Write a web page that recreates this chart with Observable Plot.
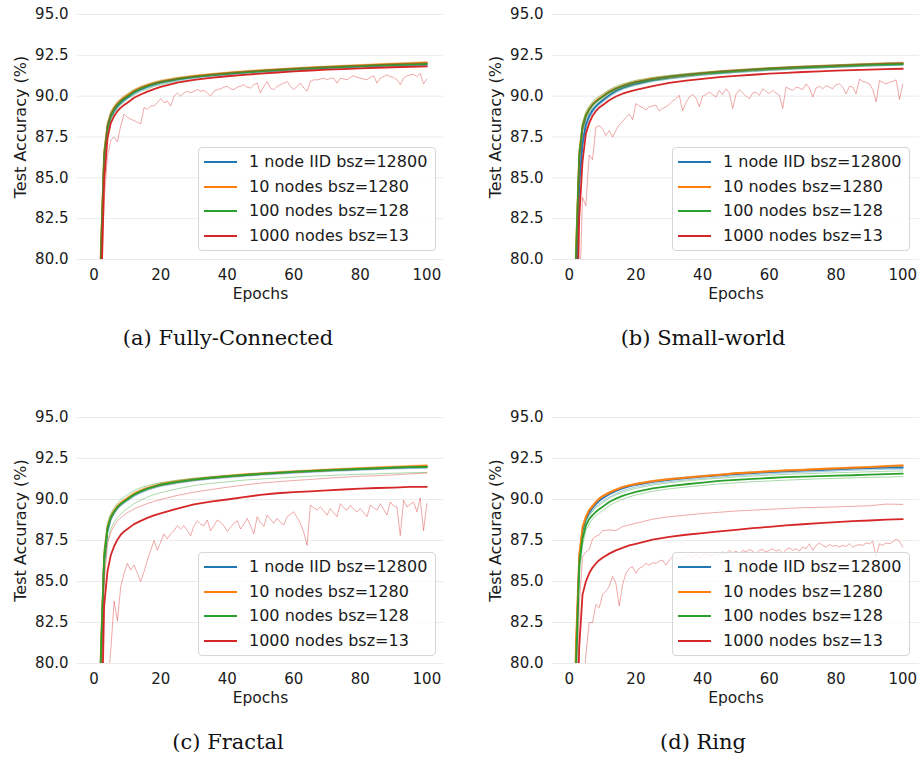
<!DOCTYPE html>
<html>
<head>
<meta charset="utf-8">
<script src="https://cdn.jsdelivr.net/npm/d3@7"></script>
<script src="https://cdn.jsdelivr.net/npm/@observablehq/plot@0.6"></script>
<style>
  html, body { margin: 0; padding: 0; background: #fff; }
  #root { position: relative; width: 920px; height: 761px; overflow: hidden; font-family: "DejaVu Sans", sans-serif; color: #1a1a1a; }
  .panel { position: absolute; }
  .caption { position: absolute; font-family: "DejaVu Serif", serif; font-size: 21px; color: #111; white-space: nowrap; transform: translateX(-50%); line-height: 24px; }
  .legend { position: absolute; border: 1px solid #d6d6d6; border-radius: 4px; background: rgba(255,255,255,0.8); box-sizing: border-box; }
  .legend .sw { position: absolute; left: 5px; width: 33px; height: 2px; }
  .legend .lb { position: absolute; left: 50px; font-size: 16px; line-height: 18px; white-space: nowrap; color: #1a1a1a; }
</style>
</head>
<body>
<div id="root"></div>
<script>
// ---------- labels / ticks ----------
const seriesNames = ["1 node IID bsz=12800", "10 nodes bsz=1280", "100 nodes bsz=128", "1000 nodes bsz=13"];
const seriesColors = ["#1f77b4", "#ff7f0e", "#2ca02c", "#d62728"];
const panelTitles = ["(a) Fully-Connected", "(b) Small-world", "(c) Fractal", "(d) Ring"];
const xTicks = [0, 20, 40, 60, 80, 100];
const yTicks = [80, 82.5, 85, 87.5, 90, 92.5, 95];
const xTitle = "Epochs";
const yTitle = "Test Accuracy (%)";

// ---------- epochs ----------
const epochsKey = [1,2,3,4,5,6,7,8,9,10,12,14,16,18,20,25,30,35,40,45,50,55,60,65,70,75,80,85,90,95,100];
const epochsAll = [1,2,3,4,5,6,7,8,9,10,11,12,13,14,15,16,17,18,19,20,21,22,23,24,25,26,27,28,29,30,31,32,33,34,35,36,37,38,39,40,41,42,43,44,45,46,47,48,49,50,51,52,53,54,55,56,57,58,59,60,61,62,63,64,65,66,67,68,69,70,71,72,73,74,75,76,77,78,79,80,81,82,83,84,85,86,87,88,89,90,91,92,93,94,95,96,97,98,99,100];

// ---------- (a) Fully-Connected ----------
const fcBlueMean = [68,79.6,86.1,88.0,88.75,89.1,89.4,89.6,89.78,89.92,90.22,90.42,90.58,90.72,90.83,91.03,91.16,91.27,91.36,91.45,91.52,91.58,91.64,91.69,91.74,91.78,91.82,91.86,91.9,91.93,91.95];
const fcBlueLo = [66,78.6,85.7,87.8,88.6,88.98,89.3,89.5,89.68,89.84,90.12,90.34,90.5,90.63,90.75,90.95,91.09,91.21,91.3,91.38,91.46,91.52,91.58,91.63,91.68,91.72,91.77,91.8,91.84,91.87,91.89];
const fcBlueHi = [70,80.6,86.5,88.2,88.9,89.25,89.52,89.72,89.9,90.03,90.31,90.5,90.66,90.8,90.91,91.1,91.23,91.34,91.43,91.51,91.58,91.65,91.7,91.75,91.8,91.84,91.88,91.92,91.96,91.99,92.01];
const fcOrangeMean = [70,80.5,86.5,88.2,88.9,89.28,89.56,89.76,89.92,90.06,90.33,90.52,90.68,90.8,90.91,91.09,91.22,91.33,91.42,91.5,91.57,91.63,91.69,91.74,91.79,91.84,91.88,91.93,91.97,92.01,92.05];
const fcOrangeLo = [68.5,79.8,86.2,88.0,88.75,89.15,89.45,89.66,89.82,89.96,90.24,90.44,90.6,90.72,90.83,91.02,91.16,91.27,91.36,91.44,91.51,91.57,91.63,91.68,91.73,91.78,91.82,91.87,91.91,91.95,91.99];
const fcOrangeHi = [71.5,81.2,86.8,88.4,89.05,89.42,89.68,89.88,90.03,90.16,90.43,90.61,90.76,90.88,90.99,91.16,91.29,91.39,91.48,91.56,91.63,91.69,91.75,91.8,91.85,91.9,91.94,91.99,92.03,92.07,92.11];
const fcGreenMean = [69,80.1,86.3,88.1,88.82,89.18,89.47,89.67,89.84,89.98,90.26,90.46,90.61,90.75,90.86,91.05,91.18,91.29,91.38,91.46,91.53,91.6,91.66,91.71,91.76,91.8,91.84,91.88,91.92,91.95,91.98];
const fcGreenLo = [67,79.0,85.9,87.8,88.55,88.95,89.22,89.5,89.62,89.85,90.05,90.3,90.42,90.6,90.68,90.9,90.98,91.15,91.25,91.3,91.42,91.46,91.55,91.58,91.65,91.68,91.73,91.78,91.81,91.85,91.87];
const fcGreenHi = [71,81.0,86.7,88.35,89.05,89.38,89.62,89.82,89.97,90.12,90.39,90.56,90.71,90.83,90.94,91.11,91.25,91.35,91.44,91.52,91.6,91.66,91.72,91.77,91.82,91.86,91.9,91.94,91.98,92.02,92.05];
const fcRedMean = [66,77.0,84.8,87.4,88.35,88.78,89.08,89.3,89.46,89.6,89.9,90.1,90.28,90.43,90.57,90.83,91.0,91.12,91.22,91.3,91.38,91.45,91.52,91.57,91.62,91.66,91.7,91.74,91.77,91.8,91.82];
const fcRedHi = [70,80.3,86.4,88.2,88.88,89.25,89.53,89.73,89.88,90.02,90.3,90.5,90.65,90.78,90.89,91.07,91.21,91.32,91.41,91.49,91.57,91.63,91.69,91.74,91.79,91.83,91.88,91.92,91.96,92.0,92.04];
const fcRedLo = [62,78,83.5,86.3,87.3,87.5,87.2,88.2,88.9,88.7, 88.6,88.5,88.4,88.3,89.3,89.2,89.4,89.4,89.6,89.85, 89.6,89.7,89.4,90.0,90.2,90.0,90.2,90.3,90.2,90.3, 90.4,90.3,90.35,90.2,90.0,90.3,90.4,90.45,90.55,90.6, 90.45,90.4,90.55,90.6,90.7,90.55,90.5,90.7,90.8,90.2, 90.6,90.9,90.5,90.4,90.6,90.7,90.8,90.9,90.6,90.4, 90.6,90.8,90.5,90.3,90.9,91.0,91.0,91.05,91.1,91.0, 91.1,91.1,90.8,91.1,91.05,91.0,91.15,91.25,91.15,91.1, 91.05,91.0,91.15,91.25,90.8,91.1,91.2,91.3,91.2,91.15, 91.0,90.7,91.1,91.25,91.3,91.35,91.2,91.4,90.75,91.05];

// ---------- (b) Small-world ----------
const swBlueMean = [64,76.5,84.6,87.1,88.25,88.78,89.12,89.38,89.57,89.73,90.05,90.32,90.5,90.64,90.76,90.99,91.14,91.26,91.36,91.45,91.52,91.59,91.65,91.7,91.75,91.79,91.83,91.87,91.91,91.94,91.97];
const swBlueLo = [62,75.5,84.0,86.8,88.0,88.6,88.98,89.25,89.45,89.62,89.95,90.22,90.4,90.55,90.66,90.9,91.05,91.17,91.28,91.36,91.44,91.5,91.57,91.62,91.67,91.71,91.76,91.8,91.84,91.87,91.9];
const swBlueHi = [66,77.5,85.2,87.4,88.5,88.95,89.27,89.5,89.68,89.84,90.15,90.41,90.58,90.72,90.84,91.07,91.22,91.34,91.44,91.53,91.6,91.67,91.73,91.78,91.83,91.87,91.91,91.95,91.99,92.02,92.04];
const swOrangeMean = [69,80.3,86.5,88.2,88.85,89.22,89.5,89.7,89.86,90.0,90.28,90.48,90.64,90.77,90.88,91.07,91.2,91.31,91.41,91.5,91.57,91.63,91.69,91.74,91.79,91.83,91.87,91.91,91.95,91.99,92.02];
const swOrangeLo = [67.5,79.5,86.1,87.95,88.7,89.1,89.4,89.6,89.76,89.9,90.18,90.39,90.56,90.69,90.8,90.99,91.13,91.25,91.35,91.43,91.5,91.57,91.63,91.68,91.73,91.77,91.81,91.86,91.9,91.93,91.96];
const swOrangeHi = [70.5,81.0,86.8,88.4,89.0,89.35,89.62,89.82,89.96,90.1,90.38,90.57,90.72,90.85,90.96,91.14,91.27,91.38,91.47,91.56,91.63,91.69,91.75,91.8,91.85,91.89,91.93,91.97,92.01,92.05,92.08];
const swGreenMean = [68,79.8,86.3,88.1,88.8,89.18,89.46,89.66,89.82,89.96,90.25,90.46,90.62,90.75,90.86,91.05,91.19,91.3,91.4,91.48,91.55,91.62,91.68,91.73,91.77,91.81,91.85,91.89,91.93,91.96,91.98];
const swGreenLo = [66,78.8,85.9,87.8,88.55,88.95,89.25,89.45,89.62,89.78,90.08,90.3,90.48,90.6,90.72,90.93,91.07,91.19,91.3,91.38,91.46,91.53,91.59,91.64,91.69,91.73,91.77,91.81,91.85,91.88,91.9];
const swGreenHi = [70,80.8,86.7,88.4,89.05,89.4,89.66,89.86,90.0,90.13,90.4,90.6,90.75,90.87,90.97,91.15,91.28,91.38,91.47,91.55,91.62,91.68,91.74,91.79,91.84,91.88,91.92,91.96,92.0,92.03,92.06];
const swRedMean = [60,72.0,82.5,86.0,87.7,88.35,88.8,89.08,89.3,89.45,89.75,89.98,90.15,90.28,90.38,90.62,90.81,90.95,91.06,91.16,91.24,91.31,91.38,91.43,91.48,91.52,91.56,91.6,91.63,91.66,91.68];
const swRedHi = [66,78.0,85.8,87.9,88.75,89.15,89.45,89.66,89.83,89.98,90.26,90.47,90.63,90.76,90.88,91.07,91.21,91.32,91.42,91.51,91.58,91.65,91.71,91.76,91.81,91.85,91.89,91.93,91.97,92.0,92.03];
const swRedLo = [62,70,77,83.8,83.3,86.4,86.1,88.1,88.2,88.0, 87.6,87.9,87.5,87.9,88.25,88.45,88.7,88.9,88.55,89.55, 89.4,89.3,89.15,89.35,89.4,89.45,89.1,89.25,89.35,89.5, 89.7,89.85,90.05,89.1,89.6,89.95,90.1,89.9,89.35,90.0, 90.1,90.25,90.1,89.95,90.35,90.1,90.45,90.2,89.25,90.1, 90.4,90.2,90.0,89.85,90.2,90.25,90.05,90.45,90.3,90.15, 90.35,90.2,90.05,89.25,90.55,90.45,90.35,90.55,90.5,90.4, 90.75,90.5,89.95,90.5,90.6,90.45,90.65,90.55,90.45,90.7, 90.75,90.55,90.15,90.6,90.55,90.15,91.05,90.9,90.85,90.75, 90.4,89.65,90.95,90.85,90.75,90.85,90.9,91.0,89.8,90.75];

// ---------- (c) Fractal ----------
const frBlueMean = [68,79.8,86.3,88.1,88.85,89.22,89.5,89.7,89.86,90.0,90.28,90.48,90.64,90.77,90.88,91.06,91.2,91.31,91.4,91.48,91.55,91.61,91.67,91.72,91.77,91.81,91.85,91.89,91.93,91.96,91.98];
const frBlueLo = [66,78.8,85.9,87.85,88.7,89.1,89.38,89.6,89.76,89.9,90.18,90.39,90.55,90.68,90.8,90.98,91.12,91.24,91.33,91.41,91.48,91.54,91.6,91.65,91.7,91.74,91.78,91.82,91.86,91.89,91.9];
const frBlueHi = [70,80.6,86.6,88.3,88.98,89.33,89.6,89.8,89.95,90.09,90.36,90.55,90.71,90.84,90.95,91.12,91.26,91.37,91.46,91.54,91.61,91.67,91.73,91.78,91.83,91.87,91.91,91.95,91.99,92.02,92.04];
const frOrangeMean = [70,80.6,86.6,88.3,88.95,89.3,89.58,89.78,89.93,90.07,90.35,90.54,90.7,90.82,90.93,91.1,91.23,91.34,91.43,91.51,91.58,91.64,91.7,91.75,91.8,91.85,91.89,91.94,91.98,92.02,92.06];
const frOrangeLo = [68.5,79.8,86.3,88.1,88.82,89.18,89.47,89.68,89.84,89.98,90.26,90.46,90.62,90.74,90.85,91.03,91.17,91.28,91.37,91.45,91.52,91.58,91.64,91.69,91.74,91.79,91.83,91.88,91.92,91.96,92.0];
const frOrangeHi = [71.5,81.3,86.9,88.45,89.08,89.42,89.7,89.88,90.02,90.16,90.44,90.62,90.78,90.9,91.01,91.17,91.3,91.4,91.49,91.57,91.64,91.7,91.76,91.81,91.86,91.91,91.95,92.0,92.04,92.08,92.12];
const frGreenMean = [69,80.2,86.4,88.2,88.9,89.25,89.53,89.73,89.88,90.02,90.3,90.5,90.66,90.79,90.9,91.08,91.21,91.32,91.41,91.49,91.56,91.62,91.68,91.73,91.78,91.82,91.86,91.9,91.94,91.97,91.99];
const frGreenLo = [65,77.5,85.5,87.4,88.2,88.6,88.9,89.1,89.3,89.45,89.75,89.95,90.15,90.3,90.42,90.65,90.85,90.98,91.08,91.18,91.25,91.3,91.36,91.42,91.46,91.5,91.54,91.57,91.6,91.63,91.65];
const frGreenHi = [72,81.5,87.0,88.6,89.15,89.5,89.8,90.0,90.15,90.3,90.55,90.72,90.85,90.95,91.03,91.18,91.3,91.38,91.46,91.53,91.6,91.66,91.72,91.77,91.82,91.86,91.9,91.94,91.98,92.01,92.04];
const frRedMean = [62,73.5,83.5,85.6,86.6,87.15,87.55,87.85,88.05,88.2,88.5,88.7,88.88,89.03,89.15,89.45,89.7,89.87,90.0,90.15,90.28,90.38,90.45,90.5,90.56,90.61,90.66,90.7,90.73,90.77,90.77];
const frRedHi = [66,77.5,84.8,87.3,88.0,88.4,88.7,88.9,89.05,89.2,89.42,89.6,89.75,89.88,90.0,90.25,90.45,90.6,90.75,90.88,91.0,91.08,91.16,91.22,91.3,91.36,91.42,91.45,91.5,91.56,91.62];
const frRedLo = [60,68,74,78.5,80.8,83.8,82.6,84.7,85.5,86.1, 85.7,86.0,85.5,85.0,85.6,86.3,86.9,87.5,86.9,87.4, 87.9,87.6,87.9,88.1,88.4,88.2,88.4,88.1,87.8,88.4, 88.7,88.5,88.4,88.75,88.1,88.4,88.75,88.6,88.4,88.05, 88.3,88.55,88.7,88.2,88.5,88.85,88.4,87.9,88.95,88.6, 88.35,89.05,88.8,88.55,88.85,88.6,88.45,88.95,89.1,89.25, 88.9,88.55,88.0,87.2,89.65,89.5,89.35,89.55,89.3,89.05, 89.45,89.2,88.95,89.75,89.5,89.35,89.65,89.4,89.25,89.45, 89.2,88.95,89.65,89.5,89.35,89.75,89.4,89.05,89.85,89.6, 89.55,87.8,89.95,89.55,89.7,89.85,89.25,90.1,88.1,89.75];

// ---------- (d) Ring ----------
const riBlueMean = [68,80.2,86.2,88.1,88.8,89.2,89.48,89.72,89.92,90.08,90.32,90.52,90.68,90.8,90.9,91.08,91.2,91.3,91.39,91.47,91.55,91.61,91.67,91.72,91.76,91.8,91.84,91.88,91.91,91.95,91.95];
const riBlueLo = [66,79.2,85.8,87.85,88.6,89.02,89.3,89.55,89.75,89.9,90.15,90.36,90.53,90.66,90.77,90.96,91.09,91.2,91.29,91.37,91.45,91.51,91.57,91.62,91.66,91.7,91.74,91.78,91.81,91.84,91.85];
const riBlueHi = [70,81.0,86.5,88.3,88.95,89.35,89.62,89.85,90.04,90.2,90.42,90.6,90.75,90.86,90.96,91.14,91.27,91.37,91.46,91.54,91.62,91.68,91.74,91.79,91.83,91.87,91.91,91.95,91.98,92.02,92.03];
const riOrangeMean = [70,81.0,86.6,88.3,88.95,89.35,89.6,89.85,90.05,90.2,90.42,90.6,90.75,90.86,90.95,91.12,91.24,91.33,91.42,91.5,91.6,91.66,91.72,91.77,91.81,91.86,91.9,91.94,91.98,92.03,92.08];
const riOrangeLo = [69,80.5,86.4,88.15,88.85,89.27,89.53,89.78,89.98,90.13,90.36,90.55,90.7,90.81,90.9,91.07,91.2,91.29,91.38,91.46,91.56,91.62,91.68,91.73,91.77,91.82,91.86,91.9,91.94,91.99,92.04];
const riOrangeHi = [71,81.5,86.8,88.42,89.05,89.43,89.67,89.92,90.12,90.27,90.48,90.65,90.8,90.91,91.0,91.17,91.29,91.38,91.47,91.55,91.64,91.7,91.76,91.81,91.85,91.9,91.94,91.98,92.02,92.07,92.12];
const riGreenMean = [67,79.5,86.0,87.6,88.4,88.8,89.05,89.25,89.4,89.55,89.85,90.05,90.22,90.35,90.47,90.68,90.82,90.93,91.03,91.13,91.2,91.26,91.31,91.36,91.4,91.43,91.46,91.48,91.52,91.55,91.58];
const riGreenLo = [65,78.0,85.2,87.2,88.1,88.5,88.8,89.0,89.18,89.32,89.62,89.85,90.02,90.16,90.28,90.5,90.65,90.76,90.86,90.95,91.02,91.08,91.13,91.18,91.22,91.26,91.29,91.32,91.35,91.37,91.4];
const riGreenHi = [69,80.5,86.5,88.0,88.7,89.05,89.3,89.5,89.65,89.8,90.08,90.28,90.44,90.57,90.68,90.88,91.02,91.13,91.22,91.3,91.37,91.43,91.48,91.53,91.57,91.6,91.63,91.66,91.69,91.72,91.74];
const riRedMean = [60,72,81.0,84.2,85.0,85.5,85.85,86.1,86.3,86.45,86.7,86.9,87.05,87.2,87.3,87.55,87.72,87.85,87.95,88.06,88.15,88.25,88.33,88.42,88.49,88.56,88.62,88.68,88.72,88.77,88.8];
const riRedHi = [64,76,83.5,86.5,86.8,86.95,87.6,87.75,87.85,88.1,88.15,88.1,88.35,88.45,88.55,88.8,88.95,89.05,89.15,89.22,89.3,89.35,89.4,89.45,89.5,89.52,89.55,89.58,89.62,89.72,89.7];
const riRedLo = [58,66,72,77.5,80.5,82.5,82.5,83.6,83.4,84.2, 84.4,84.7,85.3,84.9,83.5,84.8,85.5,85.8,85.9,85.5, 85.8,85.9,86.1,86.0,86.15,86.1,86.25,86.3,86.0,86.3, 86.5,86.4,86.45,86.3,86.5,86.6,86.5,86.65,86.4,86.6, 86.7,86.55,86.6,86.75,86.6,86.8,86.7,86.9,86.75,86.85, 86.7,86.9,86.8,86.95,86.85,86.7,86.9,86.95,86.8,86.9, 87.0,86.85,86.95,86.7,86.95,87.05,86.9,87.0,86.85,87.1, 87.0,87.3,86.9,87.2,87.35,87.2,87.1,87.25,87.15,87.2, 87.1,87.2,87.15,87.3,87.1,87.2,87.25,87.2,87.35,87.3, 87.45,86.5,87.3,87.2,87.35,87.3,87.4,87.6,87.45,87.1];

// ---------- panel assembly ----------
const panels = [
  {title: panelTitles[0], left: 0,   top: 0,   mL: 77, mR: 17, mB: 51, leg: [198, 147], cap: [228, 338],
   series: [[fcBlueMean, fcBlueLo, fcBlueHi], [fcOrangeMean, fcOrangeLo, fcOrangeHi], [fcGreenMean, fcGreenLo, fcGreenHi], [fcRedMean, fcRedLo, fcRedHi]]},
  {title: panelTitles[1], left: 460, top: 0,   mL: 92, mR: 1,  mB: 51, leg: [672, 147], cap: [703, 338],
   series: [[swBlueMean, swBlueLo, swBlueHi], [swOrangeMean, swOrangeLo, swOrangeHi], [swGreenMean, swGreenLo, swGreenHi], [swRedMean, swRedLo, swRedHi]]},
  {title: panelTitles[2], left: 0,   top: 403, mL: 77, mR: 17, mB: 50, leg: [198, 552], cap: [228, 742],
   series: [[frBlueMean, frBlueLo, frBlueHi], [frOrangeMean, frOrangeLo, frOrangeHi], [frGreenMean, frGreenLo, frGreenHi], [frRedMean, frRedLo, frRedHi]]},
  {title: panelTitles[3], left: 460, top: 403, mL: 92, mR: 1,  mB: 50, leg: [672, 552], cap: [703, 742],
   series: [[riBlueMean, riBlueLo, riBlueHi], [riOrangeMean, riOrangeLo, riOrangeHi], [riGreenMean, riGreenLo, riGreenHi], [riRedMean, riRedLo, riRedHi]]}
];

const xOf = arr => (arr.length === epochsAll.length ? epochsAll : epochsKey);
const root = document.getElementById("root");

panels.forEach(p => {
  const marks = [
    Plot.gridY(yTicks, {stroke: "#ebebeb", strokeOpacity: 1, strokeWidth: 1}),
    Plot.axisX(xTicks, {tickSize: 0, tickPadding: 10, label: null}),
    Plot.axisY(yTicks, {tickSize: 0, tickPadding: 9, tickFormat: d => d.toFixed(1), label: null}),
    Plot.text([xTitle], {frameAnchor: "bottom", lineAnchor: "middle", textAnchor: "middle", dy: 35, fontSize: 15.5}),
    Plot.text([yTitle], {frameAnchor: "left", lineAnchor: "middle", textAnchor: "middle", dx: -57, dy: -10, rotate: -90, fontSize: 16})
  ];
  p.series.forEach((s, i) => {
    const color = seriesColors[i];
    const [mean, lo, hi] = s;
    marks.push(Plot.lineY(lo, {x: xOf(lo), stroke: color, strokeWidth: 0.8, strokeOpacity: 0.5, clip: true}));
    marks.push(Plot.lineY(hi, {x: xOf(hi), stroke: color, strokeWidth: 0.8, strokeOpacity: 0.5, clip: true}));
    marks.push(Plot.lineY(mean, {x: xOf(mean), stroke: color, strokeWidth: 1.8, clip: true}));
  });
  const svg = Plot.plot({
    width: 460, height: 310,
    marginLeft: p.mL, marginRight: p.mR, marginTop: 14, marginBottom: p.mB,
    x: {domain: [-5, 105]},
    y: {domain: [80, 95]},
    style: {fontFamily: "DejaVu Sans", fontSize: "15px", color: "#1a1a1a", background: "transparent", overflow: "visible"},
    marks
  });
  const wrap = document.createElement("div");
  wrap.className = "panel";
  wrap.style.left = p.left + "px";
  wrap.style.top = p.top + "px";
  wrap.appendChild(svg);
  root.appendChild(wrap);

  // legend
  const leg = document.createElement("div");
  leg.className = "legend";
  leg.style.left = p.leg[0] + "px";
  leg.style.top = p.leg[1] + "px";
  leg.style.width = "238px";
  leg.style.height = "104px";
  seriesNames.forEach((name, i) => {
    const cy = Math.round(14 + i * 24.7);
    const sw = document.createElement("div");
    sw.className = "sw";
    sw.style.top = (cy - 1) + "px";
    sw.style.background = seriesColors[i];
    const lb = document.createElement("div");
    lb.className = "lb";
    lb.style.top = (cy - 9) + "px";
    lb.textContent = name;
    leg.appendChild(sw);
    leg.appendChild(lb);
  });
  root.appendChild(leg);

  // caption
  const cap = document.createElement("div");
  cap.className = "caption";
  cap.style.left = p.cap[0] + "px";
  cap.style.top = (p.cap[1] - 12) + "px";
  cap.textContent = p.title;
  root.appendChild(cap);
});
</script>
</body>
</html>
